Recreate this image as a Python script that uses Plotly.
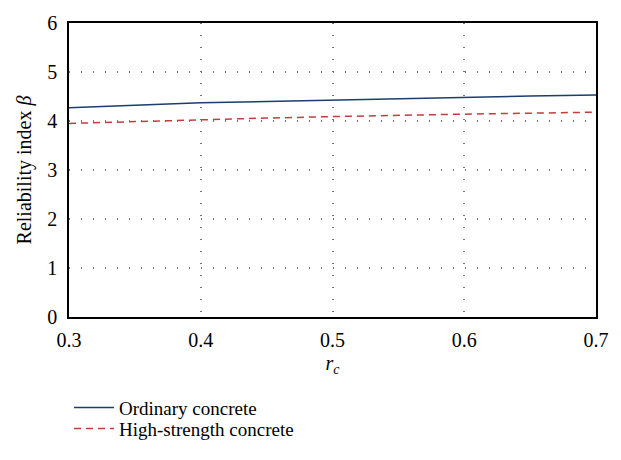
import plotly.graph_objects as go

r_c = [0.30, 0.35, 0.40, 0.45, 0.50, 0.55, 0.60, 0.65, 0.70]
beta_ordinary = [4.27, 4.32, 4.37, 4.40, 4.43, 4.46, 4.48, 4.51, 4.53]
beta_high_strength = [3.95, 3.99, 4.03, 4.06, 4.09, 4.12, 4.14, 4.16, 4.18]
x_ticks = [0.3, 0.4, 0.5, 0.6, 0.7]
y_ticks = [0, 1, 2, 3, 4, 5, 6]

FONT = "Liberation Serif"
TICKFONT = dict(family=FONT, size=20, color="black")

fig = go.Figure()
fig.add_trace(go.Scatter(x=r_c, y=beta_ordinary, mode="lines", name="Ordinary concrete",
                         line=dict(color="#1a3e6e", width=1.5), legend="legend"))
fig.add_trace(go.Scatter(x=r_c, y=beta_high_strength, mode="lines", name="High-strength concrete",
                         line=dict(color="#c43c3c", width=1.5, dash="7px,5px"), legend="legend2"))

W, H = 621, 460
plot_top, plot_bottom = 13, 324
ph = plot_bottom - plot_top

def ypaper(pix):
    return (plot_bottom - pix) / ph

leg_common = dict(x=0, xref="paper", yanchor="middle", xanchor="left",
                  font=dict(family=FONT, size=19, color="black"),
                  bgcolor="rgba(0,0,0,0)", itemwidth=40)

fig.update_layout(
    width=W, height=H,
    margin=dict(l=69, r=23, t=plot_top, b=H - plot_bottom),
    paper_bgcolor="white", plot_bgcolor="white",
    font=dict(family=FONT, size=20, color="black"),
    showlegend=True,
    legend=dict(y=ypaper(420), **leg_common),
    legend2=dict(y=ypaper(442), **leg_common),
    xaxis=dict(range=[0.3, 0.7], tickvals=x_ticks, ticktext=[str(v) for v in x_ticks],
               tickfont=TICKFONT, ticklabelstandoff=4,
               showline=True, linecolor="black", linewidth=1.5, mirror=True,
               showgrid=True, gridcolor="#777777", griddash="1px,11px", gridwidth=1.5,
               zeroline=False, ticks="",
               title=dict(text="<i>r</i><sub><i>c</i></sub>", standoff=6,
                          font=dict(family=FONT, size=20))),
    yaxis=dict(range=[0, 6], tickvals=y_ticks, tickfont=TICKFONT, ticklabelstandoff=6,
               showline=True, linecolor="black", linewidth=1.5, mirror=True,
               showgrid=True, gridcolor="#777777", griddash="1px,11px", gridwidth=1.5,
               zeroline=False, ticks="",
               title=dict(text="Reliability index <i>β</i>", standoff=10,
                          font=dict(family=FONT, size=20))),
)

fig.write_html("out.html", config={"displayModeBar": False},
               post_script="document.body.style.margin='0';")
